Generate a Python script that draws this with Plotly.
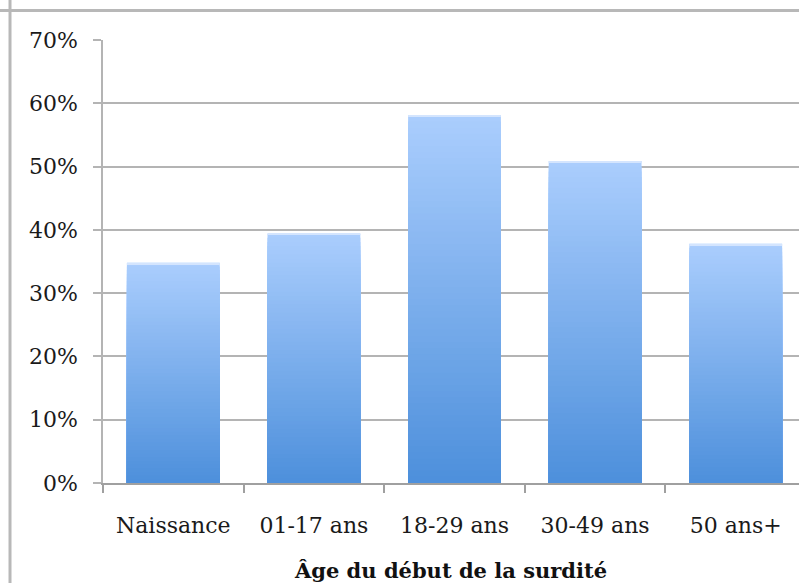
import plotly.graph_objects as go

# Age at onset of deafness — share of respondents per age group
categories = ["Naissance", "01-17 ans", "18-29 ans", "30-49 ans", "50 ans+"]
values = [0.348, 0.394, 0.581, 0.509, 0.378]
y_ticks = [0, 0.1, 0.2, 0.3, 0.4, 0.5, 0.6, 0.7]
y_tick_labels = ["0%", "10%", "20%", "30%", "40%", "50%", "60%", "70%"]
axis_title = "Âge du début de la surdité"

TOP_RGB = (170, 205, 253)
BOTTOM_RGB = (76, 143, 219)
STEPS = 60

FONT = "DejaVu Serif"

fig = go.Figure()

# Vertical gradient: overlaid bars, each a bit shorter and darker than the last
for k in range(STEPS):
    frac = k / STEPS
    rgb = tuple(round(TOP_RGB[i] + (BOTTOM_RGB[i] - TOP_RGB[i]) * frac) for i in range(3))
    fig.add_trace(go.Bar(
        x=categories,
        y=[v * (1 - frac) for v in values],
        width=0.66,
        marker=dict(color="rgb(%d,%d,%d)" % rgb, line=dict(width=0)),
        showlegend=False,
        hoverinfo="skip",
    ))

# thin lighter rim along the top of each bar
fig.add_trace(go.Bar(
    x=categories,
    y=[0.002] * len(values),
    base=[v - 0.002 for v in values],
    width=0.66,
    marker=dict(color="rgb(212,229,254)", line=dict(width=0)),
    showlegend=False,
    hoverinfo="skip",
))

fig.update_layout(
    width=799,
    height=583,
    barmode="overlay",
    paper_bgcolor="white",
    plot_bgcolor="white",
    margin=dict(l=103, r=0, t=40, b=100),
    font=dict(family=FONT, size=22, color="#1a1a1a"),
    shapes=[
        # chart frame (left and top edges visible)
        dict(type="line", xref="paper", yref="paper", x0=-0.1336, x1=-0.1336, y0=1.1, y1=-0.3,
             line=dict(color="#b8b8b8", width=3)),
        dict(type="line", xref="paper", yref="paper", x0=-0.2, x1=1.1, y0=1.0665, y1=1.0665,
             line=dict(color="#b8b8b8", width=3)),
    ],
)

fig.update_xaxes(
    type="category",
    range=[-0.5, 4.45],
    showgrid=False,
    showline=True,
    linecolor="#a0a0a0",
    linewidth=2,
    ticks="outside",
    tickson="boundaries",
    ticklen=8,
    tickcolor="#a0a0a0",
    tickwidth=1.5,
    tickfont=dict(family=FONT, size=22, color="#1a1a1a"),
    ticklabelstandoff=22,
    title=dict(text="<b>" + axis_title + "</b>", font=dict(family=FONT, size=21, color="#111111"), standoff=26),
)

fig.update_yaxes(
    range=[0, 0.7],
    tickvals=y_ticks,
    ticktext=y_tick_labels,
    showgrid=True,
    gridcolor="#b4b4b4",
    gridwidth=1.5,
    showline=True,
    linecolor="#b4b4b4",
    linewidth=1.5,
    ticks="outside",
    ticklen=8,
    tickcolor="#b4b4b4",
    tickwidth=1.5,
    tickfont=dict(family=FONT, size=22, color="#1a1a1a"),
    ticklabelstandoff=11,
    zeroline=False,
)

fig.write_html("out.html")
